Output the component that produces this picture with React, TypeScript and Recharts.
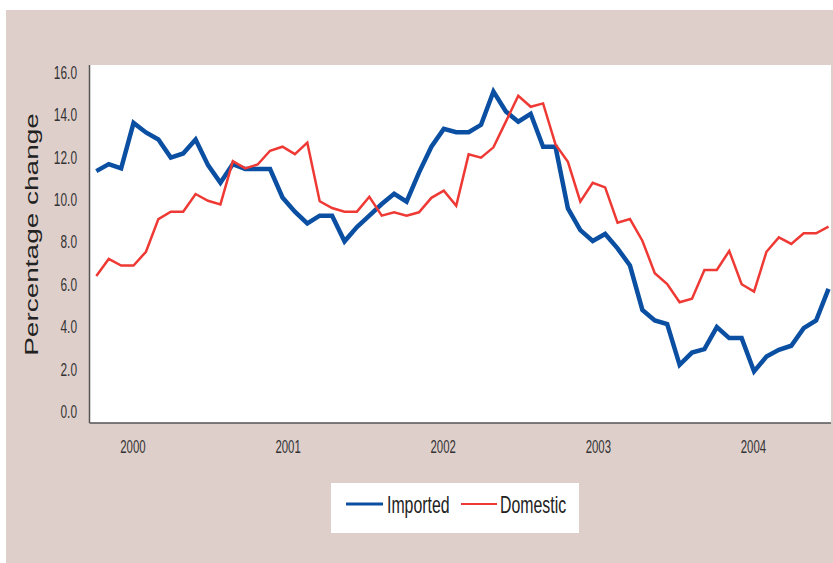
import React from 'react';
import { LineChart, Line, XAxis, YAxis, CartesianGrid, Legend } from 'recharts';

const imported = [
  11.34, 11.67, 11.47, 13.61, 13.16, 12.83, 11.98, 12.17, 12.83, 11.62,
  10.79, 11.67, 11.44, 11.44, 11.44, 10.1, 9.43, 8.88, 9.24, 9.24,
  8.03, 8.7, 9.24, 9.79, 10.27, 9.9, 11.27, 12.49, 13.33, 13.17,
  13.17, 13.52, 15.09, 14.15, 13.67, 14.04, 12.49, 12.49, 9.58, 8.56,
  8.05, 8.38, 7.7, 6.89, 4.8, 4.3, 4.13, 2.21, 2.79, 2.95,
  3.99, 3.47, 3.47, 1.9, 2.6, 2.92, 3.11, 3.94, 4.3, 5.79,
];

const domestic = [
  6.4, 7.2, 6.89, 6.89, 7.54, 9.08, 9.43, 9.43, 10.26, 9.94,
  9.77, 11.81, 11.47, 11.65, 12.3, 12.49, 12.14, 12.68, 9.92, 9.6,
  9.43, 9.43, 10.13, 9.24, 9.4, 9.24, 9.4, 10.08, 10.42, 9.71,
  12.13, 11.97, 12.46, 13.67, 14.89, 14.37, 14.53, 12.6, 11.78, 9.9,
  10.79, 10.57, 8.91, 9.08, 8.06, 6.53, 6.02, 5.16, 5.33, 6.68,
  6.68, 7.58, 6.01, 5.66, 7.54, 8.22, 7.91, 8.41, 8.41, 8.72,
];

const yearLabels = ['2000', '2001', '2002', '2003', '2004'];
const yearTickPositions = [2.95, 15.45, 27.95, 40.45, 52.95];
const yTicks = [0, 2, 4, 6, 8, 10, 12, 14, 16];

const data = imported.map((v, i) => ({ i, imported: v, domestic: domestic[i] }));

const BLUE = '#0b4fa2';
const RED = '#ee3934';
const FONT = "'Liberation Sans', Arial, sans-serif";

const YTick = (props: any) => {
  const { x, y, payload } = props;
  return (
    <text
      x={0}
      y={0}
      transform={`translate(${x},${y}) scale(0.66,1)`}
      textAnchor="end"
      dy="0.36em"
      fontSize={18}
      fill="#333"
      fontFamily={FONT}
    >
      {Number(payload.value).toFixed(1)}
    </text>
  );
};

const XTick = (props: any) => {
  const { x, y, payload, index } = props;
  const idx = yearTickPositions.indexOf(payload.value);
  const label = idx >= 0 ? yearLabels[idx] : yearLabels[index];
  return (
    <text
      x={0}
      y={0}
      transform={`translate(${x},${y + 30}) scale(0.6,1)`}
      textAnchor="middle"
      fontSize={19}
      fill="#333"
      fontFamily={FONT}
    >
      {label}
    </text>
  );
};

const LegendBox = () => (
  <div style={{ width: 248, height: 50, background: '#fff' }}>
    <svg width={248} height={50} style={{ display: 'block' }}>
      <line x1={15} y1={21} x2={52} y2={21} stroke={BLUE} strokeWidth={3} />
      <text
        transform="translate(56,30) scale(0.69,1)"
        fontSize={23}
        fill="#222"
        fontFamily={FONT}
      >
        Imported
      </text>
      <line x1={130} y1={21} x2={166} y2={21} stroke={RED} strokeWidth={2} />
      <text
        transform="translate(169,30) scale(0.69,1)"
        fontSize={23}
        fill="#222"
        fontFamily={FONT}
      >
        Domestic
      </text>
    </svg>
  </div>
);

export default function App() {
  return (
    <div style={{ position: 'absolute', left: 0, top: 0, width: 833, height: 563, background: '#fff' }}>
      <div
        style={{
          position: 'absolute',
          left: 6,
          top: 10,
          width: 827,
          height: 553,
          background: '#dfcfcb',
        }}
      />
      <div style={{ position: 'absolute', left: 0, top: 0 }}>
        <LineChart
          width={833}
          height={563}
          data={data}
          margin={{ top: 65, right: 2, bottom: 110, left: 0 }}
        >
          <CartesianGrid fill="#ffffff" horizontal={false} vertical={false} />
          <XAxis
            dataKey="i"
            type="number"
            domain={[-0.55, 59.2]}
            ticks={yearTickPositions}
            tick={<XTick />}
            tickLine={false}
            tickSize={0}
            tickMargin={0}
            height={30}
            axisLine={{ stroke: '#555', strokeWidth: 1.5 }}
            allowDataOverflow
          />
          <XAxis
            xAxisId="top"
            dataKey="i"
            type="number"
            orientation="top"
            domain={[-0.55, 59.2]}
            tick={false}
            tickLine={false}
            height={0}
            axisLine={{ stroke: '#9a9696', strokeWidth: 2.5 }}
            allowDataOverflow
          />
          <YAxis
            type="number"
            domain={[-0.53, 16.34]}
            ticks={yTicks}
            tick={<YTick />}
            tickLine={false}
            tickSize={0}
            tickMargin={12.5}
            width={89.5}
            axisLine={{ stroke: '#555', strokeWidth: 1.5 }}
            allowDataOverflow
          />
          <YAxis
            yAxisId="right"
            orientation="right"
            type="number"
            domain={[-0.53, 16.34]}
            tick={false}
            tickLine={false}
            width={0}
            axisLine={{ stroke: '#6a6464', strokeWidth: 2 }}
            allowDataOverflow
          />
          <Line
            type="linear"
            dataKey="imported"
            name="Imported"
            stroke={BLUE}
            strokeWidth={4.5}
            dot={false}
            activeDot={false}
            isAnimationActive={false}
          />
          <Line
            type="linear"
            dataKey="domestic"
            name="Domestic"
            stroke={RED}
            strokeWidth={2.5}
            dot={false}
            activeDot={false}
            isAnimationActive={false}
          />
          <Legend
            verticalAlign="middle"
            align="center"
            layout="horizontal"
            content={<LegendBox />}
            wrapperStyle={{ position: 'absolute', left: 331, top: 483, width: 248, height: 50 }}
          />
        </LineChart>
      </div>
      <svg
        width={80}
        height={563}
        style={{ position: 'absolute', left: 0, top: 0, pointerEvents: 'none' }}
      >
        <text
          transform="translate(37.7,234.5) rotate(-90) scale(1.6,1)"
          textAnchor="middle"
          fontSize={17.5}
          fill="#222"
          fontFamily={FONT}
        >
          Percentage change
        </text>
      </svg>
    </div>
  );
}
